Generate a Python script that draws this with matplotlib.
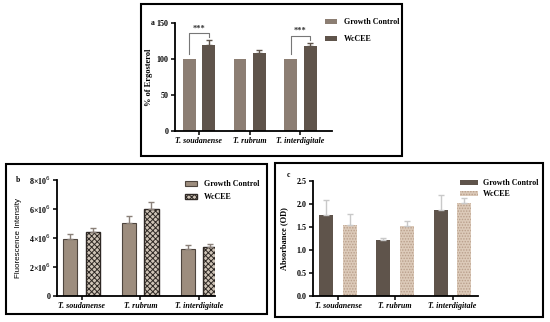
import numpy as np
import matplotlib
matplotlib.use("Agg")
import matplotlib.pyplot as plt
from matplotlib.patches import Rectangle

plt.rcParams['font.family'] = ['Liberation Serif', 'DejaVu Serif']
plt.rcParams['hatch.linewidth'] = 0.7

species = ["T. soudanense", "T. rubrum", "T. interdigitale"]
series = ["Growth Control", "WcCEE"]

# panel a: % of ergosterol
erg_gc = [100, 100, 100]
erg_wc = [119.5, 108, 118.5]
erg_wc_err = [6.5, 4.5, 4]

# panel b: fluorescence intensity
fl_gc = [3.95e6, 5.06e6, 3.22e6]
fl_gc_err = [0.35e6, 0.48e6, 0.3e6]
fl_wc = [4.39e6, 5.98e6, 3.4e6]
fl_wc_err = [0.32e6, 0.52e6, 0.16e6]

# panel c: absorbance
ab_gc = [1.75, 1.21, 1.86]
ab_gc_err = [0.34, 0.04, 0.32]
ab_wc = [1.54, 1.52, 2.01]
ab_wc_err = [0.24, 0.11, 0.11]

W, H = 550, 322
fig = plt.figure(figsize=(5.5, 3.22), dpi=100)

def px_axes(l, r, t, b):
    return fig.add_axes([l / W, 1 - b / H, (r - l) / W, (b - t) / H])

def frame(l, r, t, b):
    fig.patches.append(Rectangle((l / W, 1 - b / H), (r - l) / W, (b - t) / H,
                                 transform=fig.transFigure, fill=False,
                                 lw=1.5, ec='black'))

def style(ax, fs=5.8):
    for s in ['top', 'right']:
        ax.spines[s].set_visible(False)
    for s in ['left', 'bottom']:
        ax.spines[s].set_linewidth(1.3)
    ax.tick_params(axis='both', length=3, width=1.1, labelsize=fs, pad=1.5)
    for lab in ax.get_yticklabels():
        lab.set_fontweight('bold')
    for lab in ax.get_xticklabels():
        lab.set_fontweight('bold')
        lab.set_fontstyle('italic')

x = np.arange(3)

# ---------- a ----------
frame(141, 402, 4, 156)
axa = px_axes(175, 332, 23, 131)
off, w = 0.19, 0.25
ca_gc, ca_wc = '#8c7e73', '#5f544b'
ba1 = axa.bar(x - off, erg_gc, w, color=ca_gc, label=series[0])
ba2 = axa.bar(x + off, erg_wc, w, color=ca_wc, label=series[1])
axa.errorbar(x + off, erg_wc, yerr=[np.zeros(3), erg_wc_err], fmt='none',
             ecolor=ca_wc, elinewidth=1, capsize=2.5, capthick=1)
for i in [0, 2]:
    top = erg_wc[i] + erg_wc_err[i]
    axa.plot([x[i] - off, x[i] - off, x[i] + off, x[i] + off],
             [erg_gc[i] + 7, top + 10, top + 10, top + 4],
             color='#777777', lw=0.8)
    axa.text(x[i], top + 10.5, '***', ha='center', va='bottom',
             fontsize=6, fontweight='bold', color='#333333')
axa.set_ylim(0, 150)
axa.set_yticks([0, 50, 100, 150])
axa.set_xlim(-0.47, 2.62)
axa.set_xticks(x)
axa.set_xticklabels(species)
axa.set_ylabel('% of Ergosterol', fontsize=6, fontweight='bold')
axa.yaxis.set_label_coords(-0.14, 0.5)
style(axa)
fig.text(153 / W, 1 - 23 / H, 'a', fontsize=5.5, fontweight='bold',
         ha='center', va='center')
fig.legend(handles=[ba1, ba2], loc='upper left',
           bbox_to_anchor=(318 / W, 1 - 11 / H), frameon=False,
           prop={'size': 5.8, 'weight': 'bold'}, handlelength=1.5,
           handleheight=0.6, handletextpad=0.8, labelspacing=1.1)

# ---------- b ----------
frame(6, 267, 164, 314)
axb = px_axes(57, 215, 180, 296)
off, w = 0.19, 0.24
bb1 = axb.bar(x - off, fl_gc, w, color='#9d8d7e', edgecolor='#4e453e',
              lw=0.8, label=series[0])
bb2 = axb.bar(x + off, fl_wc, w, color='#cfc4b7', edgecolor='#2e2824',
              hatch='xxxxxx', lw=1.0, label=series[1])
axb.errorbar(x - off, fl_gc, yerr=[np.zeros(3), fl_gc_err], fmt='none',
             ecolor='#8a8079', elinewidth=1, capsize=2.5, capthick=1)
axb.errorbar(x + off, fl_wc, yerr=[np.zeros(3), fl_wc_err], fmt='none',
             ecolor='#8a8079', elinewidth=1, capsize=2.5, capthick=1)
axb.set_ylim(0, 8e6)
axb.set_yticks([0, 2e6, 4e6, 6e6, 8e6])
axb.set_yticklabels(['0', '2×10$^6$', '4×10$^6$', '6×10$^6$', '8×10$^6$'])
axb.set_xlim(-0.417, 2.27)
axb.set_xticks(x)
axb.set_xticklabels(species)
axb.set_ylabel('Fluorescence Intensity', fontsize=5.8,
               family=['Liberation Sans', 'DejaVu Sans'])
axb.yaxis.set_label_coords(-0.22, 0.5)
style(axb)
fig.text(18 / W, 1 - 180 / H, 'b', fontsize=5.5, fontweight='bold',
         ha='center', va='center')
fig.legend(handles=[bb1, bb2], loc='upper left',
           bbox_to_anchor=(178 / W, 1 - 173 / H), frameon=False,
           prop={'size': 5.8, 'weight': 'bold'}, handlelength=1.5,
           handleheight=0.6, handletextpad=0.8, labelspacing=0.6)

# ---------- c ----------
frame(275, 543, 163, 317)
axc = px_axes(313, 478, 180.7, 296)
off, w = 0.206, 0.245
bc1 = axc.bar(x - off, ab_gc, w, color='#5f544b', label=series[0])
bc2 = axc.bar(x + off, ab_wc, w, color='#dccab9', edgecolor='#b99f8b',
              hatch='......', lw=0, label=series[1])
axc.errorbar(x - off, ab_gc, yerr=[np.zeros(3), ab_gc_err], fmt='none',
             ecolor='#c9c9c9', elinewidth=1, capsize=2.5, capthick=1)
axc.errorbar(x + off, ab_wc, yerr=[np.zeros(3), ab_wc_err], fmt='none',
             ecolor='#c9c9c9', elinewidth=1, capsize=2.5, capthick=1)
axc.set_ylim(0, 2.5)
axc.set_yticks([0, 0.5, 1.0, 1.5, 2.0, 2.5])
axc.set_yticklabels(['0.0', '0.5', '1.0', '1.5', '2.0', '2.5'])
axc.set_xlim(-0.437, 2.445)
axc.set_xticks(x)
axc.set_xticklabels(species)
axc.set_ylabel('Absorbance (OD)', fontsize=6, fontweight='bold')
axc.yaxis.set_label_coords(-0.15, 0.5)
style(axc)
fig.text(288 / W, 1 - 175 / H, 'c', fontsize=5.5, fontweight='bold',
         ha='center', va='center')
fig.legend(handles=[bc1, bc2], loc='upper left',
           bbox_to_anchor=(453 / W, 1 - 172 / H), frameon=False,
           prop={'size': 5.8, 'weight': 'bold'}, handlelength=2.2,
           handleheight=0.6, handletextpad=0.6, labelspacing=0.4)

fig.savefig('out.png', dpi=100)
